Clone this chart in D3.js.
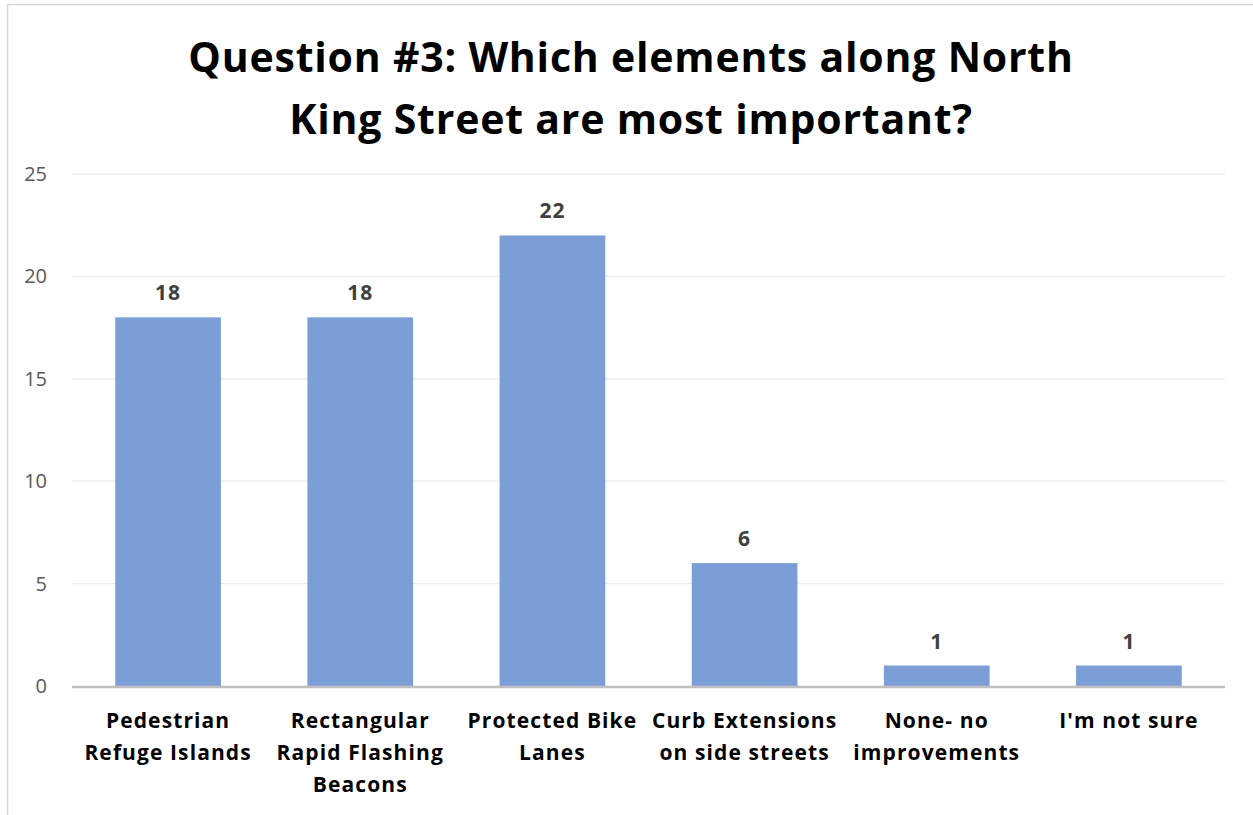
<!DOCTYPE html>
<html>
<head>
<meta charset="utf-8">
<script src="https://cdn.jsdelivr.net/npm/d3@7"></script>
<style>
  body { margin: 0; background: #fff; }
  svg { display: block; font-family: "Open Sans", sans-serif; }
</style>
</head>
<body>
<svg></svg>
<script>
const width = 1253;
const height = 815;
const margin = { top: 174, right: 28, bottom: 129, left: 72 };

// datos
const categories = [
  ["Pedestrian", "Refuge Islands"],
  ["Rectangular", "Rapid Flashing", "Beacons"],
  ["Protected Bike", "Lanes"],
  ["Curb Extensions", "on side streets"],
  ["None- no", "improvements"],
  ["I'm not sure"]
];
const values = [18, 18, 22, 6, 1, 1];
const yTicks = [0, 5, 10, 15, 20, 25];
const titleLines = ["Question #3: Which elements along North", "King Street are most important?"];

const data = categories.map((c, i) => ({ key: i, lines: c, value: values[i] }));

const svg = d3.select("svg")
  .attr("width", width)
  .attr("height", height);

// marco del gráfico
svg.append("path")
  .attr("d", `M7.5,${height} V4.5 H${width}`)
  .attr("fill", "none")
  .attr("stroke", "#d9d9d9")
  .attr("stroke-width", 1.5);

const x = d3.scaleBand()
  .domain(data.map(d => d.key))
  .range([margin.left, width - margin.right])
  .paddingInner(0.45)
  .paddingOuter(0.225);

const y = d3.scaleLinear()
  .domain([0, 25])
  .range([height - margin.bottom, margin.top]);

// grid
svg.append("g")
  .selectAll("line")
  .data(yTicks.filter(t => t > 0))
  .join("line")
  .attr("x1", margin.left)
  .attr("x2", width - margin.right)
  .attr("y1", d => y(d))
  .attr("y2", d => y(d))
  .attr("stroke", "#ececec")
  .attr("stroke-width", 1.3);

// Eje Y
const yAxis = svg.append("g")
  .attr("transform", `translate(${margin.left},0)`)
  .call(d3.axisLeft(y).tickValues(yTicks).tickSize(0).tickPadding(25));
yAxis.select(".domain").remove();
yAxis.selectAll(".tick text")
  .attr("fill", "#595959")
  .style("font-size", "20px")
  .style("font-family", "'Open Sans', sans-serif");

// barras
svg.selectAll("rect.bar")
  .data(data)
  .join("rect")
  .attr("class", "bar")
  .attr("x", d => x(d.key))
  .attr("y", d => y(d.value))
  .attr("width", x.bandwidth())
  .attr("height", d => y(0) - y(d.value))
  .attr("fill", "#7b9ed7");

// etiquetas de valor
svg.selectAll("text.val")
  .data(data)
  .join("text")
  .attr("class", "val")
  .attr("x", d => x(d.key) + x.bandwidth() / 2)
  .attr("y", d => y(d.value) - 17)
  .attr("text-anchor", "middle")
  .attr("fill", "#404040")
  .style("font-size", "21px")
  .style("font-weight", "bold")
  .style("letter-spacing", "1px")
  .text(d => d.value);

// Eje X
svg.append("line")
  .attr("x1", margin.left)
  .attr("x2", width - margin.right)
  .attr("y1", y(0) + 1)
  .attr("y2", y(0) + 1)
  .attr("stroke", "#bfbfbf")
  .attr("stroke-width", 2.5);

const labels = svg.append("g")
  .selectAll("text")
  .data(data)
  .join("text")
  .attr("x", d => x(d.key) + x.bandwidth() / 2)
  .attr("y", y(0) + 42)
  .attr("text-anchor", "middle")
  .attr("fill", "#000")
  .style("font-size", "21px")
  .style("font-weight", "bold")
  .style("letter-spacing", "1.1px");

labels.selectAll("tspan")
  .data(d => d.lines)
  .join("tspan")
  .attr("x", function() { return d3.select(this.parentNode).attr("x"); })
  .attr("dy", (d, i) => i === 0 ? 0 : 32)
  .text(d => d);

// título
svg.append("text")
  .attr("x", 631)
  .attr("y", 72)
  .attr("text-anchor", "middle")
  .attr("fill", "#000")
  .style("font-size", "41px")
  .style("font-weight", "bold")
  .style("letter-spacing", "0.8px")
  .selectAll("tspan")
  .data(titleLines)
  .join("tspan")
  .attr("x", 631)
  .attr("dy", (d, i) => i === 0 ? 0 : 62)
  .text(d => d);
</script>
</body>
</html>
